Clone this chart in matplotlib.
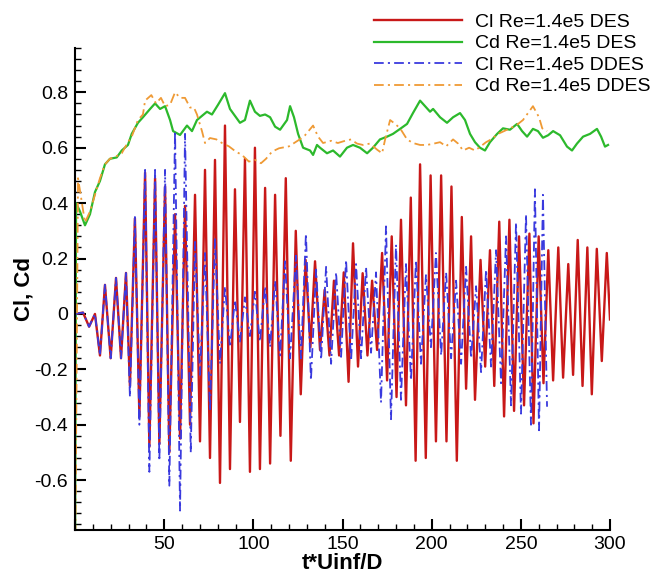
import matplotlib
matplotlib.use('Agg')
import matplotlib.pyplot as plt
from matplotlib.ticker import MultipleLocator, FuncFormatter

plt.rcParams['font.family'] = ['Liberation Sans', 'DejaVu Sans']
plt.rcParams['lines.scale_dashes'] = False

# ---------------- data ----------------
cl_des_t = [0, 4.5, 7.9, 11.2, 14.0, 16.8, 20.0, 23.0, 25.8, 28.6,
            30.8, 33.6, 36.1, 39.3, 41.7, 44.9, 47.3, 50.5, 52.9, 56.1,
            58.9, 61.7, 64.5, 67.3, 70.1, 72.9, 75.7, 78.5, 81.3, 84.1,
            86.9, 89.7, 92.5, 95.3, 98.1, 100.9, 103.7, 106.6, 109.4, 112.2,
            115.2, 118.2, 121.0, 123.8, 126.6, 129.3, 132.0, 134.6, 137.4, 140.0,
            142.7, 145.2, 148.1, 150.7, 153.4, 155.9, 158.7, 161.3, 164.0, 166.6,
            169.4, 172.2, 175.0, 177.6, 180.3, 182.8, 185.6, 188.3, 191.0, 193.5,
            196.7, 199.4, 202.4, 205.3, 208.3, 211.1, 214.1, 216.9, 219.3, 222.1,
            224.3, 227.4, 230.0, 232.7, 235.1, 237.9, 240.6, 243.6, 246.2, 249.0,
            251.8, 254.8, 257.1, 260.0, 262.7, 265.4, 268.1, 271.0, 273.7, 276.6,
            279.3, 281.9, 284.6, 287.3, 289.8, 292.6, 295.4, 298.2, 300.0]
cl_des = [0.0, 0.005, -0.046, 0.0, -0.15, 0.105, -0.16, 0.13, -0.16, 0.148,
          -0.26, 0.345, -0.37, 0.51, -0.48, 0.49, -0.47, 0.46, -0.50, 0.36,
          -0.45, 0.39, -0.40, 0.43, -0.46, 0.52, -0.52, 0.556, -0.61, 0.68,
          -0.56, 0.45, -0.39, 0.56, -0.57, 0.60, -0.56, 0.455, -0.54, 0.43,
          -0.44, 0.49, -0.53, 0.30, -0.29, 0.195, -0.12, 0.19, -0.13, 0.087,
          -0.15, 0.12, -0.15, 0.15, -0.245, 0.255, -0.19, 0.147, -0.15, 0.12,
          -0.13, 0.22, -0.24, 0.28, -0.30, 0.34, -0.33, 0.42, -0.53, 0.54,
          -0.52, 0.50, -0.46, 0.50, -0.46, 0.46, -0.53, 0.35, -0.27, 0.28,
          -0.31, 0.195, -0.19, 0.23, -0.26, 0.333, -0.37, 0.34, -0.35, 0.28,
          -0.33, 0.29, -0.395, 0.28, -0.25, 0.23, -0.24, 0.24, -0.23, 0.18,
          -0.22, 0.267, -0.26, 0.24, -0.29, 0.235, -0.17, 0.22, -0.02]

cl_ddes_t = [0, 4.5, 7.9, 11.2, 14.0, 16.8, 20.0, 23.0, 25.8, 28.6,
             30.8, 33.6, 36.1, 39.3, 41.7, 44.9, 47.3, 50.5, 52.9, 56.1,
             58.9, 61.7, 64.9, 67.3, 70.1, 72.9, 75.7, 78.5, 81.3, 84.1,
             86.9, 89.7, 92.5, 95.3, 98.1, 100.9, 103.7, 106.6, 109.4, 112.2,
             115.0, 117.8, 120.6, 123.9, 126.7, 129.5, 132.3, 135.2, 138.0, 140.8,
             143.6, 146.4, 149.2, 152.0, 154.8, 157.6, 160.4, 163.2, 166.0, 168.8,
             171.6, 174.4, 177.2, 180.0, 182.8, 185.6, 188.4, 191.2, 194.0, 196.8,
             199.6, 202.4, 205.3, 208.1, 210.9, 213.7, 216.5, 219.3, 222.1, 224.9,
             227.7, 230.5, 233.3, 236.1, 238.9, 241.7, 244.5, 247.3, 250.1, 252.9,
             255.7, 257.9, 260.2, 262.4, 264.7]
cl_ddes = [0.0, 0.005, -0.046, 0.0, -0.15, 0.105, -0.16, 0.13, -0.16, 0.148,
           -0.30, 0.35, -0.40, 0.52, -0.57, 0.52, -0.53, 0.52, -0.62, 0.66,
           -0.71, 0.65, -0.50, 0.26, -0.22, 0.22, -0.35, 0.27, -0.18, 0.10,
           -0.12, 0.05, -0.10, 0.06, -0.08, 0.08, -0.10, 0.10, -0.12, 0.12,
           -0.15, 0.19, -0.16, 0.21, -0.16, 0.29, -0.24, 0.16, -0.165, 0.17,
           -0.18, 0.15, -0.155, 0.195, -0.17, 0.18, -0.16, 0.17, -0.14, 0.15,
           -0.32, 0.316, -0.38, 0.25, -0.31, 0.18, -0.24, 0.195, -0.18, 0.14,
           -0.12, 0.22, -0.15, 0.15, -0.16, 0.12, -0.18, 0.17, -0.16, 0.10,
           -0.21, 0.16, -0.19, 0.23, -0.25, 0.28, -0.33, 0.33, -0.36, 0.36,
           -0.40, 0.45, -0.42, 0.43, -0.335]

cd_des_t = [0, 0.6, 2.8, 5.6, 8.4, 11.2, 14.0, 16.8, 19.6, 23.4,
            26.2, 29.7, 31.8, 35.3, 38.1, 42.1, 44.9, 47.7, 50.5, 53.3,
            55.0, 58.9, 62.8, 65.6, 68.4, 71.2, 74.0, 76.8, 80.2, 84.1,
            86.9, 89.7, 92.5, 95.3, 98.1, 100.9, 103.7, 106.6, 109.4, 112.2,
            115.0, 118.9, 120.6, 122.8, 125.1, 127.9, 131.8, 133.5, 135.7, 137.4,
            141.3, 144.7, 148.6, 152.5, 155.9, 159.8, 163.8, 167.1, 171.0, 175.0,
            178.3, 182.3, 186.2, 189.5, 193.5, 196.3, 199.1, 200.8, 204.7, 208.6,
            212.0, 215.9, 218.7, 221.5, 224.3, 227.1, 229.9, 232.7, 236.7, 240.0,
            243.9, 247.9, 250.7, 253.5, 256.8, 259.6, 262.4, 265.3, 268.1, 272.0,
            275.9, 278.7, 281.5, 284.9, 288.8, 292.7, 295.0, 297.2, 298.9]
cd_des = [-1.0, 0.40, 0.37, 0.32, 0.36, 0.44, 0.48, 0.54, 0.56, 0.565,
          0.59, 0.61, 0.65, 0.69, 0.71, 0.74, 0.76, 0.74, 0.75, 0.70,
          0.66, 0.646, 0.68, 0.66, 0.70, 0.715, 0.73, 0.72, 0.755, 0.797,
          0.74, 0.715, 0.69, 0.70, 0.77, 0.73, 0.715, 0.72, 0.71, 0.676,
          0.665, 0.70, 0.75, 0.71, 0.65, 0.60, 0.59, 0.574, 0.61, 0.60,
          0.58, 0.59, 0.568, 0.60, 0.61, 0.60, 0.58, 0.60, 0.63, 0.64,
          0.65, 0.668, 0.686, 0.725, 0.77, 0.75, 0.73, 0.74, 0.71, 0.69,
          0.71, 0.725, 0.70, 0.65, 0.62, 0.60, 0.59, 0.62, 0.65, 0.67,
          0.665, 0.686, 0.66, 0.64, 0.668, 0.66, 0.636, 0.645, 0.66, 0.645,
          0.604, 0.59, 0.615, 0.64, 0.65, 0.668, 0.64, 0.604, 0.61]

cd_ddes_t = [0, 1.7, 3.9, 5.6, 8.4, 11.2, 14.0, 16.8, 19.6, 23.4,
             26.2, 29.7, 31.8, 35.3, 38.1, 39.3, 42.8, 45.4, 48.2, 50.5,
             53.3, 56.1, 58.9, 61.7, 64.5, 66.7, 68.4, 71.2, 72.9, 75.7,
             79.3, 82.4, 86.3, 90.2, 93.6, 97.5, 101.0, 104.3, 107.1, 110.5,
             114.4, 120.0, 126.0, 129.0, 133.5, 136.3, 139.1, 143.6, 147.4, 151.4,
             154.8, 158.1, 161.5, 165.4, 169.4, 172.2, 173.9, 176.7, 179.5, 182.3,
             186.2, 189.5, 193.5, 197.4, 201.3, 204.7, 208.1, 212.0, 214.8, 217.6,
             221.0, 224.3, 226.5, 230.5, 233.3, 237.2, 240.6, 243.9, 247.3, 251.2,
             254.0, 256.8, 258.5, 260.2, 262.0, 264.7]
cd_ddes = [-1.0, 0.49, 0.40, 0.33, 0.37, 0.43, 0.49, 0.54, 0.56, 0.57,
           0.58, 0.62, 0.64, 0.70, 0.72, 0.77, 0.79, 0.76, 0.78, 0.75,
           0.755, 0.80, 0.78, 0.78, 0.745, 0.745, 0.72, 0.66, 0.617, 0.635,
           0.63, 0.617, 0.605, 0.586, 0.574, 0.55, 0.556, 0.544, 0.56, 0.586,
           0.598, 0.605, 0.63, 0.645, 0.68, 0.64, 0.617, 0.625, 0.617, 0.625,
           0.63, 0.615, 0.61, 0.615, 0.593, 0.58, 0.63, 0.70, 0.686, 0.67,
           0.63, 0.617, 0.61, 0.61, 0.615, 0.62, 0.605, 0.63, 0.615, 0.59,
           0.60, 0.59, 0.60, 0.62, 0.63, 0.65, 0.66, 0.67, 0.68, 0.70,
           0.725, 0.75, 0.73, 0.71, 0.67, 0.66]

labels = ['Cl Re=1.4e5 DES', 'Cd Re=1.4e5 DES', 'Cl Re=1.4e5 DDES', 'Cd Re=1.4e5 DDES']
x_label = 't*Uinf/D'
y_label = 'Cl, Cd'

# ---------------- figure ----------------
W, H = 658, 574
fig = plt.figure(figsize=(W / 100, H / 100), dpi=100)
ax = fig.add_axes([75 / W, 44 / H, 535 / W, 482 / H])

dashdot = (0, (7, 3, 1.5, 3))
h1, = ax.plot(cl_des_t, cl_des, color='#c81818', lw=1.7, solid_joinstyle='round', label=labels[0])
h2, = ax.plot(cd_des_t, cd_des, color='#2cb92c', lw=1.6, solid_joinstyle='round', label=labels[1])
h3, = ax.plot(cl_ddes_t, cl_ddes, color='#3a3ade', lw=1.3, linestyle=dashdot, label=labels[2])
h4, = ax.plot(cd_ddes_t, cd_ddes, color='#ef9a35', lw=1.3, linestyle=dashdot, label=labels[3])

ax.set_xlim(0, 300)
ax.set_ylim(-0.78, 0.96)

ax.xaxis.set_major_locator(MultipleLocator(50))
ax.xaxis.set_minor_locator(MultipleLocator(10))
ax.yaxis.set_major_locator(MultipleLocator(0.2))
ax.yaxis.set_minor_locator(MultipleLocator(0.04))
ax.xaxis.set_major_formatter(FuncFormatter(lambda v, p: '' if abs(v) < 1e-9 else f'{v:.0f}'))
ax.yaxis.set_major_formatter(FuncFormatter(lambda v, p: '0' if abs(v) < 1e-9 else f'{v:.1f}'))

ax.tick_params(which='major', direction='in', length=8, width=1.5, labelsize=14, colors='black')
ax.tick_params(axis='y', which='major', pad=5)
ax.tick_params(axis='x', which='major', pad=4)
ax.tick_params(which='minor', direction='in', length=4, width=1.0)
for s in ['top', 'right']:
    ax.spines[s].set_visible(False)
for s in ['left', 'bottom']:
    ax.spines[s].set_linewidth(1.5)

ax.set_xlabel(x_label, fontsize=16, fontweight='bold')
ax.set_ylabel(y_label, fontsize=16, fontweight='bold')
ax.xaxis.set_label_coords(0.5, -0.048)
ax.yaxis.set_label_coords(-0.075, 0.5)

fig.legend(handles=[h1, h2, h3, h4], labels=labels, loc='upper right',
           bbox_to_anchor=(0.988, 0.977), frameon=False, fontsize=14,
           handlelength=4.5, handletextpad=0.65, labelspacing=0.2,
           borderpad=0, borderaxespad=0)

fig.savefig('out.png', dpi=100)
